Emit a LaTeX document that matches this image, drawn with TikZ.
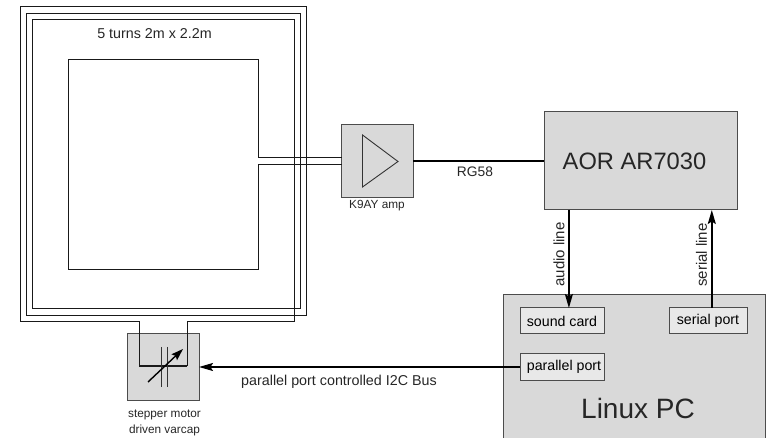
\documentclass[tikz,border=0pt]{standalone}
\usepackage{fontspec}
\setmainfont{Liberation Sans}
\usetikzlibrary{arrows.meta}
\newcommand{\fsz}[1]{\fontsize{#1bp}{1.15\dimexpr#1bp\relax}\selectfont}
\tikzset{
  x=1bp,y=-1bp,
  graybox/.style={draw=black!70,line width=1bp,fill=black!15,inner sep=0,outer sep=0},
  portbox/.style={draw=black!70,line width=1bp,fill=black!9,inner sep=0,outer sep=0,font=\fsz{14.2}},
  wire/.style={draw=black!90,line width=0.9bp,line join=miter},
  heavy/.style={draw=black,line width=1.7bp},
  headtip/.style={-{Stealth[length=14bp,width=8bp,inset=2.5bp]}},
  lbl/.style={inner sep=0,outer sep=0,text=black!85},
}
\begin{document}
\begin{tikzpicture}
\useasboundingbox (0,0) rectangle (769,438);
% boxes
\node[graybox,minimum width=71.5bp,minimum height=66bp] (varcap) at (163.25,367) {};
\node[graybox,minimum width=71.5bp,minimum height=72.5bp] (amp) at (377.5,161) {};
\node[graybox,minimum width=193bp,minimum height=98bp] (aor) at (640.5,161) {};
\fill[black!15] (503,295) rectangle (765,438);
\draw[black!70,line width=1bp] (503,438) -- (503,295) -- (765,295) -- (765,438);
% coil
\coordinate (ampA) at (341.7,157);
\coordinate (ampB) at (341.7,164);
\draw[wire] (ampA) -- (258,157) -- (258,59) -- (68,59) -- (68,269) -- (258,269) -- (258,164) -- (ampB);
\draw[wire] (139,366) -- (139,321.5) -- (20,321.5) -- (20,6.5) -- (306.5,6.5) -- (306.5,315) -- (26,315) -- (26,13) -- (300.5,13) -- (300.5,308.5) -- (32,308.5) -- (32,19.5) -- (294.5,19.5) -- (294.5,321.5) -- (187,321.5) -- (187,366);
\draw[wire,line width=1.3bp] (139,366) -- (187,366);
% capacitor
\draw[black!80,line width=0.9bp] (161,347) -- (161,387);
\draw[black!80,line width=0.9bp] (167.5,347) -- (167.5,387);
\draw[black,line width=1.4bp,-{Stealth[length=12bp,width=8bp,inset=2bp]}] (148,382) -- (183,349);
% amp triangle
\draw[black!80,line width=0.9bp,line join=miter] (362.5,135) -- (398,161.5) -- (362.5,187) -- cycle;
% ports
\node[portbox,minimum width=84bp,minimum height=26bp] (sound) at (562,321) {sound card};
\node[portbox,minimum width=78bp,minimum height=26bp] (serial) at (708,321) {serial port};
\node[portbox,minimum width=84bp,minimum height=26.5bp] (parallel) at (562,367) {\hspace*{4bp}parallel port};
% connectors
\draw[heavy] (amp.east) -- (aor.west);
\draw[heavy,headtip] (aor.south -| 568.9,0) -- (sound.north -| 568.9,0);
\draw[heavy,headtip] (serial.north -| 711.8,0) -- (aor.south -| 711.8,0);
\draw[heavy,headtip] (parallel.west) -- (varcap.east);
% labels
\node[lbl,font=\fsz{14.3}] (t1) at (154.5,34) {5 turns 2m x 2.2m};
\node[lbl,font=\fsz{11.8}] (t2) at (377,206) {K9AY amp};
\node[lbl,font=\fsz{13.8}] (t3) at (475,172) {RG58};
\node[lbl,font=\fsz{23.7}] (t4) at (634.5,161) {AOR AR7030};
\node[lbl,font=\fsz{28}] (t5) at (638,408) {Linux PC};
\node[lbl,font=\fsz{15},rotate=90] (t6) at (559,254.5) {audio line};
\node[lbl,font=\fsz{15},rotate=90] (t7) at (701.5,255) {serial line};
\node[lbl,font=\fsz{14.3}] (t8) at (339,382) {parallel port controlled I2C Bus};
\node[lbl,font=\fsz{11.8}] (t9) at (164.5,415) {stepper motor};
\node[lbl,font=\fsz{11.8}] (t10) at (164.5,430) {driven varcap};
\end{tikzpicture}
\end{document}
